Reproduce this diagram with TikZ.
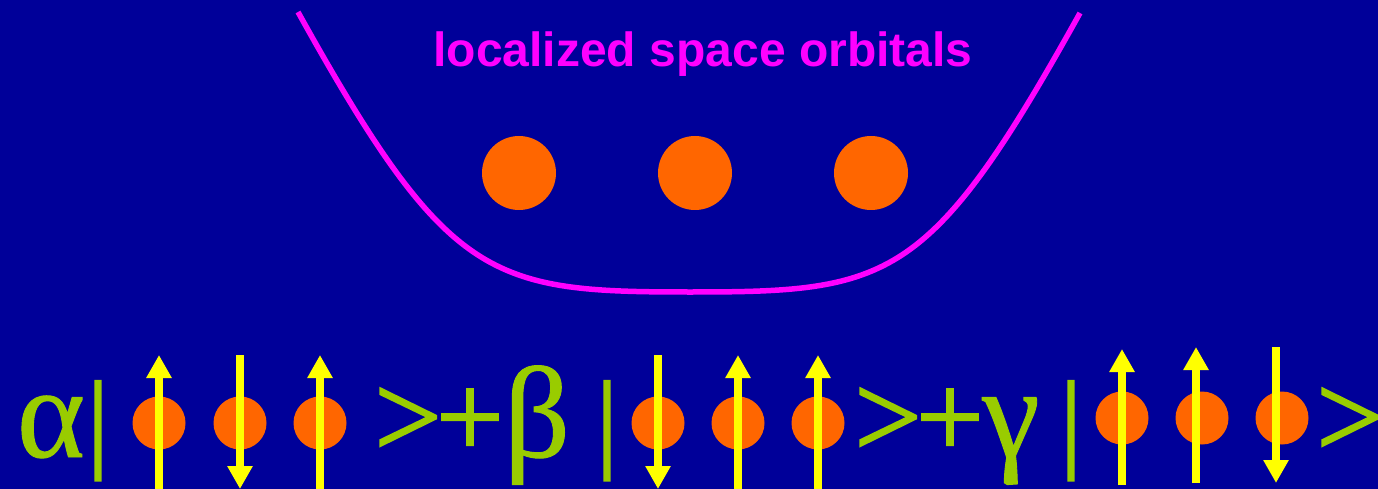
\documentclass[tikz,border=0pt]{standalone}
\usepackage{fontspec}
\setmainfont{Liberation Serif}
\newfontfamily\titlefont{Liberation Sans}
\newfontfamily\ketfont[FakeBold=1.6]{Liberation Serif}
\newfontfamily\greekfont[FakeBold=0.7]{Liberation Serif}
\usetikzlibrary{arrows.meta}
\definecolor{bgblue}{RGB}{0,0,153}
\definecolor{curvemag}{RGB}{255,0,255}
\definecolor{dotorange}{RGB}{255,102,0}
\definecolor{spinyellow}{RGB}{255,255,0}
\definecolor{ketgreen}{RGB}{153,204,0}
\tikzset{
  bigdot/.style={circle,fill=dotorange,minimum size=74pt,inner sep=0pt},
  smalldot/.style={circle,fill=dotorange,minimum size=53pt,inner sep=0pt},
  spin/.style={draw=spinyellow,line width=8pt,-{Triangle[width=24pt,length=23pt]}},
  ket/.style={text=ketgreen,font=\ketfont\fontsize{120}{120}\selectfont,inner sep=0pt,anchor=base},
  greek/.style={ket,font=\greekfont\fontsize{130}{130}\selectfont},
  ketbar/.style={ket,font=\ketfont\fontsize{110}{110}\selectfont},
  orbcurve/.style={draw=curvemag,line width=5.5pt},
}
\begin{document}
\begin{tikzpicture}[x=1pt,y=-1pt]
\fill[bgblue] (0,0) rectangle (1378,489);
\useasboundingbox (0,0) rectangle (1378,489);
% potential well curve
\draw[orbcurve] (298,12) .. controls (448,282) and (490,292) .. (690,292)
  .. controls (890,292) and (930,283) .. (1080,13);
\node[text=curvemag,font=\titlefont\bfseries\fontsize{48}{48}\selectfont,inner sep=0pt,anchor=base] (title) at (703,67) {localized space orbitals};
\node[bigdot] (o1) at (519,173) {};
\node[bigdot] (o2) at (695,173) {};
\node[bigdot] (o3) at (871,173) {};
% ket row
\node[greek] (alpha) at (51,457) {α};
\node[ketbar] (bar1) at (98,457) {|};
\node[smalldot] (d1) at (159,423) {};
\node[smalldot] (d2) at (240,423) {};
\node[smalldot] (d3) at (320,423) {};
\node[ket] (gt1) at (408,457) {>};
\node[ket] (plus1) at (470,457) {+};
\node[greek] (beta) at (537,457) {β};
\node[ketbar] (bar2) at (607,457) {|};
\node[smalldot] (d4) at (658,423) {};
\node[smalldot] (d5) at (738,423) {};
\node[smalldot] (d6) at (818,423) {};
\node[ket] (gt2) at (888,457) {>};
\node[ket] (plus2) at (950,457) {+};
\node[greek] (gamma) at (1011,457) {γ};
\node[ketbar] (bar3) at (1071,457) {|};
\node[smalldot] (d7) at (1122,418) {};
\node[smalldot] (d8) at (1202,418) {};
\node[smalldot] (d9) at (1282,418) {};
\node[ket] (gt3) at (1350,457) {>};
% spin arrows
\coordinate (a1s) at (159,492); \coordinate (a1e) at (159,355);
\coordinate (a2s) at (240,355); \coordinate (a2e) at (240,489);
\coordinate (a3s) at (320,492); \coordinate (a3e) at (320,355);
\coordinate (a4s) at (658,355); \coordinate (a4e) at (658,489);
\coordinate (a5s) at (738,492); \coordinate (a5e) at (738,355);
\coordinate (a6s) at (818,492); \coordinate (a6e) at (818,355);
\coordinate (a7s) at (1122,485); \coordinate (a7e) at (1122,349);
\coordinate (a8s) at (1196,483); \coordinate (a8e) at (1196,347);
\coordinate (a9s) at (1276,347); \coordinate (a9e) at (1276,483);
\foreach \s/\e in {a1s/a1e,a2s/a2e,a3s/a3e,a4s/a4e,a5s/a5e,a6s/a6e,a7s/a7e,a8s/a8e,a9s/a9e}
  \draw[spin] (\s) -- (\e);
\end{tikzpicture}
\end{document}
